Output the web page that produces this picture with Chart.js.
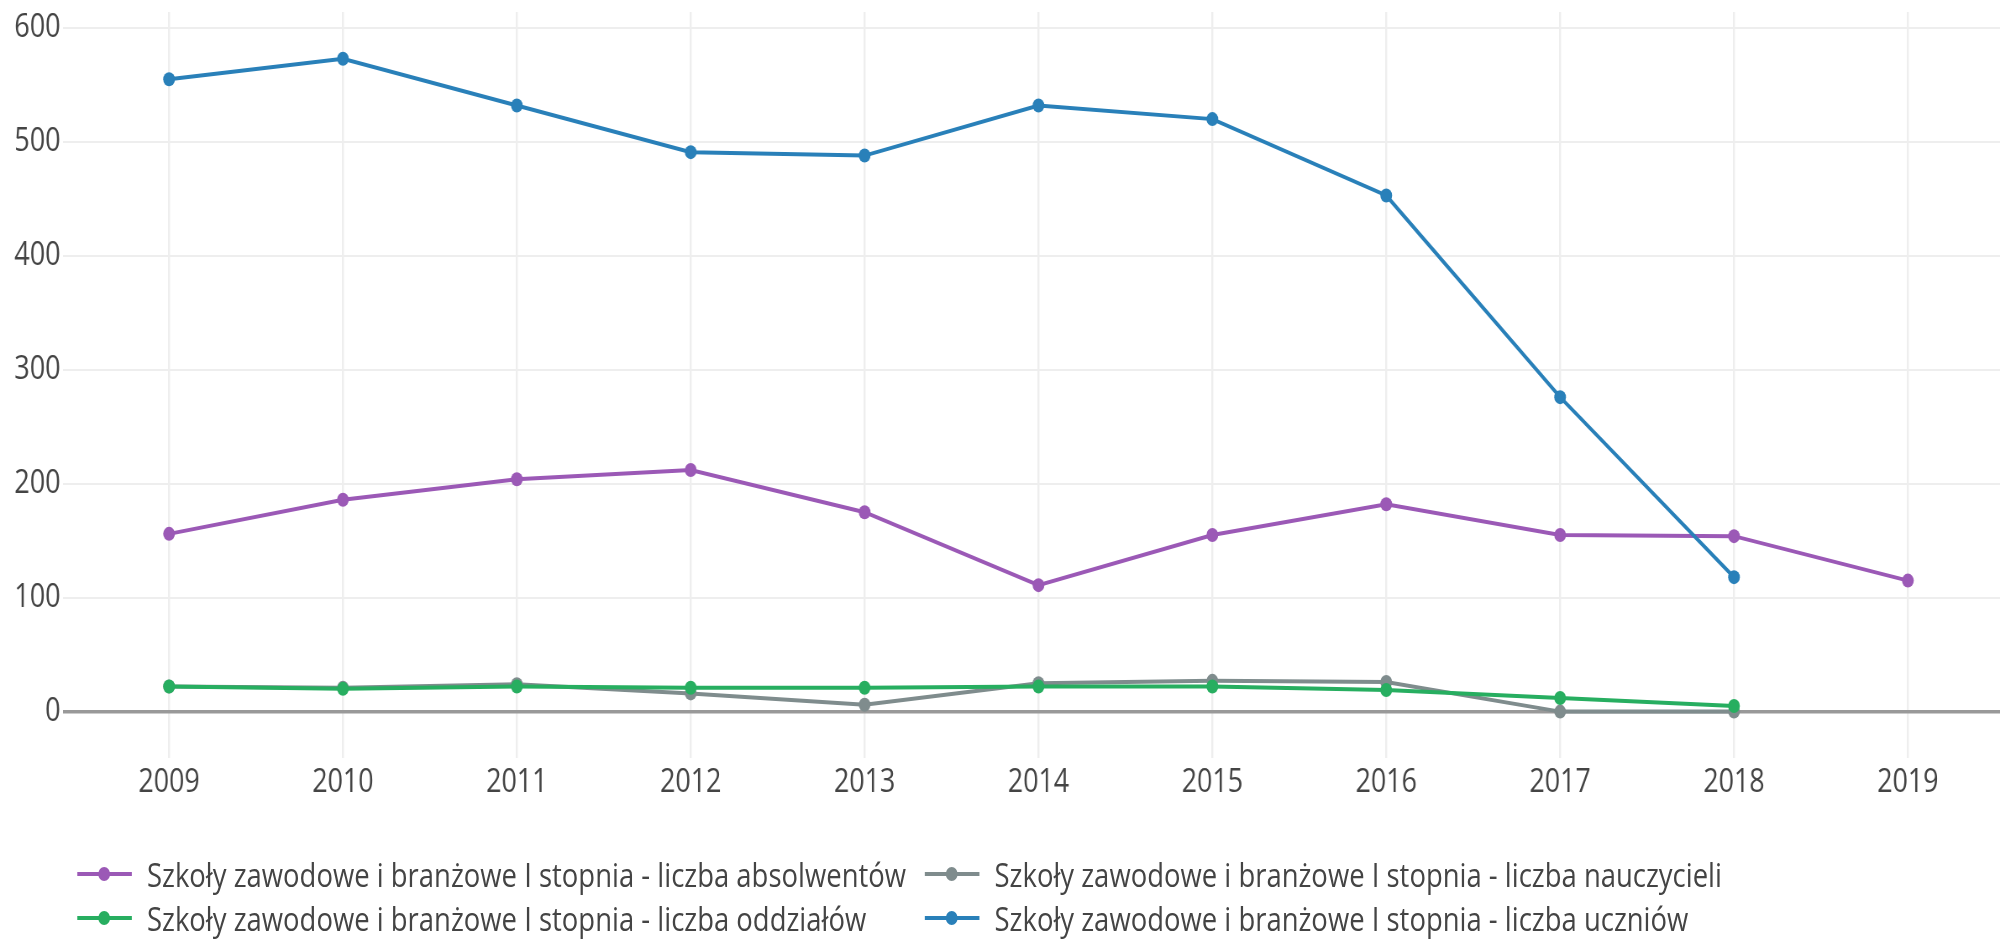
<!DOCTYPE html>
<html>
<head>
<meta charset="utf-8">
<script src="https://cdn.jsdelivr.net/npm/chart.js@4/dist/chart.umd.min.js"></script>
<style>
	html, body { margin: 0; padding: 0; background: #fff; overflow: hidden; }
	/* wykres rysowany szerzej i sciskany w poziomie, jak w oryginale */
	#ramka { position: absolute; left: 0; top: 0; width: 2388px; height: 939px; transform: scaleX(0.84); transform-origin: 0 0; }
	#wykres { position: absolute; left: 0; top: 0; }
	#legenda { position: absolute; left: 92px; top: 852px; display: grid; grid-template-columns: 1009px auto; grid-auto-rows: 44px;
		font-family: "Open Sans", sans-serif; font-size: 32.7px; color: #444; }
	.pozycja { display: flex; align-items: center; white-space: nowrap; }
	.znak { position: relative; width: 65px; height: 4px; margin-right: 18px; }
	.znak i { position: absolute; left: 25px; top: -5px; width: 14px; height: 14px; border-radius: 50%; background: inherit; }
</style>
</head>
<body>
<div id="ramka">
	<canvas id="wykres" width="2388" height="939"></canvas>
	<div id="legenda"></div>
</div>
<script>
var lata = [2009, 2010, 2011, 2012, 2013, 2014, 2015, 2016, 2017, 2018, 2019];
var absolwenci = [156, 186, 204, 212, 175, 111, 155, 182, 155, 154, 115];
var nauczyciele = [22, 21, 24, 16, 6, 25, 27, 26, 0, 0, null];
var oddzialy = [22, 20, 22, 21, 21, 22, 22, 19, 12, 5, null];
var uczniowie = [555, 573, 532, 491, 488, 532, 520, 453, 276, 118, null];
var etykiety = [
	'Szkoły zawodowe i branżowe I stopnia - liczba absolwentów',
	'Szkoły zawodowe i branżowe I stopnia - liczba nauczycieli',
	'Szkoły zawodowe i branżowe I stopnia - liczba oddziałów',
	'Szkoły zawodowe i branżowe I stopnia - liczba uczniów'
];
var kolory = ['#9b59b6', '#7f8c8d', '#27ae60', '#2980b9'];
var podzialkaY = [0, 100, 200, 300, 400, 500, 600];

var Szkoly = Szkoly || {};

Szkoly.Wykres = (function() {

	function Wykres() {
		this.ctx = document.getElementById('wykres').getContext('2d');
	}

	function punkty(wartosci) {//para rok - wartosc dla osi liniowej
		return lata.map(function(rok, i) {
			return { x: rok, y: wartosci[i] };
		});
	}

	function seria(i, wartosci, kolejnosc) {
		return {
			label: etykiety[i],
			data: punkty(wartosci),
			borderColor: kolory[i],
			backgroundColor: kolory[i],
			pointBackgroundColor: kolory[i],
			pointBorderWidth: 0,
			pointRadius: 7,
			borderWidth: 4,
			order: kolejnosc // jak w plotly: ostatnia seria na wierzchu
		};
	}

	Wykres.prototype.iniciar = function() {
		var czcionka = { family: '"Open Sans", sans-serif', size: 32 };
		new Chart(this.ctx, {
			type: 'line',
			data: {
				datasets: [
					seria(0, absolwenci, 4),
					seria(1, nauczyciele, 3),
					seria(2, oddzialy, 2),
					seria(3, uczniowie, 1)
				]
			},
			options: {
				responsive: false,
				animation: false,
				layout: { padding: { top: 12, right: 0, left: 0, bottom: 0 } },
				plugins: { legend: { display: false }, tooltip: { enabled: false } },
				scales: {
					x: {
						type: 'linear',
						min: 2008.39,
						max: 2019.53,
						afterBuildTicks: function(os) {
							os.ticks = lata.map(function(r) { return { value: r }; });
						},
						afterFit: function(os) { os.height = 181; os.paddingLeft = 0; os.paddingRight = 0; },
						ticks: { font: czcionka, color: '#444', padding: 6, maxRotation: 0,
							callback: function(v) { return String(v); } },
						grid: { color: '#eee', lineWidth: 2.4, drawTicks: false },
						border: { display: false }
					},
					y: {
						min: -40.7,
						max: 614,
						afterBuildTicks: function(os) {
							os.ticks = podzialkaY.map(function(v) { return { value: v }; });
						},
						afterFit: function(os) { os.width = 75; os.paddingTop = 0; os.paddingBottom = 0; },
						ticks: { font: czcionka, color: '#444', padding: 3 },
						grid: {
							drawTicks: false,
							color: function(c) { return c.tick && c.tick.value === 0 ? '#999' : '#eee'; },
							lineWidth: function(c) { return c.tick && c.tick.value === 0 ? 3.5 : 2; }
						},
						border: { display: false }
					}
				}
			}
		});
	};

	Wykres.prototype.legenda = function() {
		var miejsce = document.getElementById('legenda');
		[0, 1, 2, 3].forEach(function(i) {
			var el = document.createElement('div');
			el.className = 'pozycja';
			el.innerHTML = '<span class="znak" style="background:' + kolory[i] + '"><i></i></span>';
			el.appendChild(document.createTextNode(etykiety[i]));
			miejsce.appendChild(el);
		});
	};

	return Wykres;

}());

var wykres = new Szkoly.Wykres();
wykres.iniciar();
wykres.legenda();
</script>
</body>
</html>
